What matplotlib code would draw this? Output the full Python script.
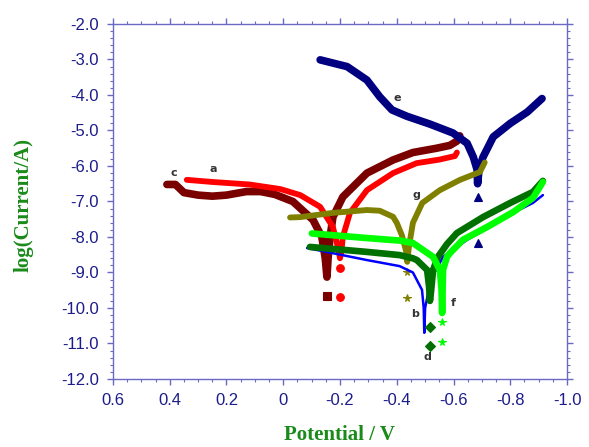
import matplotlib
matplotlib.use("Agg")
import matplotlib.pyplot as plt
from matplotlib.ticker import MultipleLocator, FuncFormatter

# Tafel curves (potential / V, log current)
a_x = [0.34, 0.25, 0.12, 0.01, -0.06, -0.13, -0.175, -0.195, -0.2, -0.205, -0.21, -0.235, -0.295, -0.387, -0.47, -0.55, -0.605, -0.612]
a_y = [-6.39, -6.45, -6.52, -6.65, -6.82, -7.15, -7.72, -8.37, -8.6, -8.4, -8.0, -7.32, -6.68, -6.2, -5.92, -5.82, -5.72, -5.62]
a_tail_x = [-0.2, -0.2]
a_tail_y = [-8.88, -9.69]

c_x = [0.41, 0.38, 0.35, 0.3, 0.25, 0.2, 0.13, 0.08, 0.03, -0.034, -0.105, -0.136, -0.148, -0.154, -0.158, -0.165, -0.175, -0.21, -0.295, -0.387, -0.457, -0.54, -0.587, -0.612, -0.622]
c_y = [-6.52, -6.52, -6.75, -6.82, -6.85, -6.82, -6.72, -6.72, -6.8, -7.0, -7.52, -8.0, -8.6, -9.13, -8.6, -8.0, -7.44, -6.87, -6.2, -5.83, -5.62, -5.5, -5.42, -5.3, -5.15]
c_tail_x = [-0.154]
c_tail_y = [-9.65]

e_x = [-0.13, -0.225, -0.295, -0.34, -0.383, -0.436, -0.517, -0.598, -0.648, -0.67, -0.683, -0.685, -0.69, -0.704, -0.74, -0.8, -0.86, -0.912]
e_y = [-3.01, -3.2, -3.58, -4.05, -4.42, -4.6, -4.82, -5.07, -5.36, -5.75, -6.1, -6.5, -6.1, -5.75, -5.18, -4.8, -4.48, -4.1]
e_tail_x = [-0.685, -0.685]
e_tail_y = [-6.87, -8.17]

g_x = [-0.024, -0.06, -0.175, -0.295, -0.34, -0.387, -0.40, -0.418, -0.433, -0.437, -0.443, -0.457, -0.49, -0.552, -0.623, -0.693, -0.71]
g_y = [-7.45, -7.44, -7.32, -7.24, -7.26, -7.43, -7.6, -7.95, -8.4, -8.7, -8.27, -7.6, -7.04, -6.68, -6.39, -6.17, -5.9]
g_tail_x = [-0.436, -0.436]
g_tail_y = [-9.0, -9.72]

f_x = [-0.101, -0.295, -0.41, -0.457, -0.528, -0.552, -0.558, -0.56, -0.563, -0.577, -0.588, -0.633, -0.718, -0.81, -0.88, -0.915]
f_y = [-7.9, -8.03, -8.1, -8.17, -8.56, -8.93, -9.5, -10.14, -8.93, -8.56, -8.45, -8.08, -7.72, -7.3, -6.9, -6.45]
f_tail_x = [-0.56, -0.56]
f_tail_y = [-10.4, -10.96]

d_x = [-0.094, -0.295, -0.41, -0.457, -0.471, -0.507, -0.514, -0.517, -0.52, -0.528, -0.545, -0.577, -0.612, -0.704, -0.8, -0.88, -0.915]
d_y = [-8.28, -8.42, -8.51, -8.6, -8.65, -8.93, -9.4, -9.8, -9.6, -8.93, -8.56, -8.2, -7.89, -7.44, -7.04, -6.73, -6.42]
d_tail_x = [-0.517, -0.517]
d_tail_y = [-10.54, -11.07]

b_x = [-0.084, -0.295, -0.41, -0.457, -0.489, -0.495, -0.497, -0.5, -0.52, -0.563, -0.648, -0.729, -0.81, -0.88, -0.915]
b_y = [-8.31, -8.65, -8.82, -9.0, -9.49, -10.0, -10.7, -10.0, -9.2, -8.56, -8.08, -7.72, -7.32, -7.04, -6.82]

labels = ["a", "b", "c", "d", "e", "f", "g"]
label_x = [0.247, -0.464, 0.385, -0.507, -0.40, -0.598, -0.47]
label_y = [-6.08, -10.17, -6.2, -11.38, -4.08, -9.86, -6.82]

fig = plt.figure(figsize=(5.89, 4.47), dpi=100)
ax = fig.add_axes([113 / 589, 68 / 447, 454 / 589, 355 / 447])

# (x, y, tail x, tail y, colour, marker, band width)
series = [
    (c_x, c_y, c_tail_x, c_tail_y, "#7a0000", "s", 5.5),
    (a_x, a_y, a_tail_x, a_tail_y, "#ff0000", "o", 4.2),
    (e_x, e_y, e_tail_x, e_tail_y, "#000080", "^", 5.5),
    (g_x, g_y, g_tail_x, g_tail_y, "#808000", "*", 4.2),
    (b_x, b_y, [], [], "#0000ff", None, 1.8),
    (d_x, d_y, d_tail_x, d_tail_y, "#007000", "D", 4.8),
    (f_x, f_y, f_tail_x, f_tail_y, "#00ff00", "*", 4.8),
]
for x, y, tx, ty, col, mk, lw in series:
    ax.plot(x, y, color=col, lw=lw, solid_capstyle="round", solid_joinstyle="round")
    if mk:
        ax.plot(tx, ty, ls="none", marker=mk, color=col, ms=5.5, mew=0.8)

for t, x, y in zip(labels, label_x, label_y):
    ax.text(x, y, t, ha="center", va="center", fontsize=8, fontweight="bold", color="#333333")

ax.set_xlim(0.6, -1.0)
ax.set_ylim(-12, -2)

spine = "#6a6ac4"
navy = "#1c1c8c"
for s in ax.spines.values():
    s.set_color(spine)
    s.set_linewidth(1.0)

ax.xaxis.set_major_locator(MultipleLocator(0.2))
ax.xaxis.set_minor_locator(MultipleLocator(0.05))
ax.yaxis.set_major_locator(MultipleLocator(1.0))
ax.yaxis.set_minor_locator(MultipleLocator(0.2))
ax.xaxis.set_major_formatter(FuncFormatter(lambda v, p: "0" if abs(v) < 1e-9 else f"{v:.1f}"))
ax.yaxis.set_major_formatter(FuncFormatter(lambda v, p: f"{v:.1f}"))

ax.tick_params(which="both", direction="out", color=spine, top=True, right=True,
               labelcolor=navy, labelsize=12)
ax.tick_params(which="major", length=4, width=1.0, pad=6)
ax.tick_params(which="minor", length=2, width=0.8)
for lab in ax.get_xticklabels() + ax.get_yticklabels():
    lab.set_family("Liberation Sans")

fig.text(340 / 589, 2 / 447, "Potential / V", ha="center", va="bottom",
         fontsize=15, fontweight="bold", color="#1a8a1a", family="Liberation Serif")
fig.text(24 / 589, 1 - 205 / 447, "log(Current/A)", ha="center", va="center", rotation=90,
         fontsize=15, fontweight="bold", color="#1a8a1a", family="Liberation Serif")

fig.savefig("out.png", dpi=100)
